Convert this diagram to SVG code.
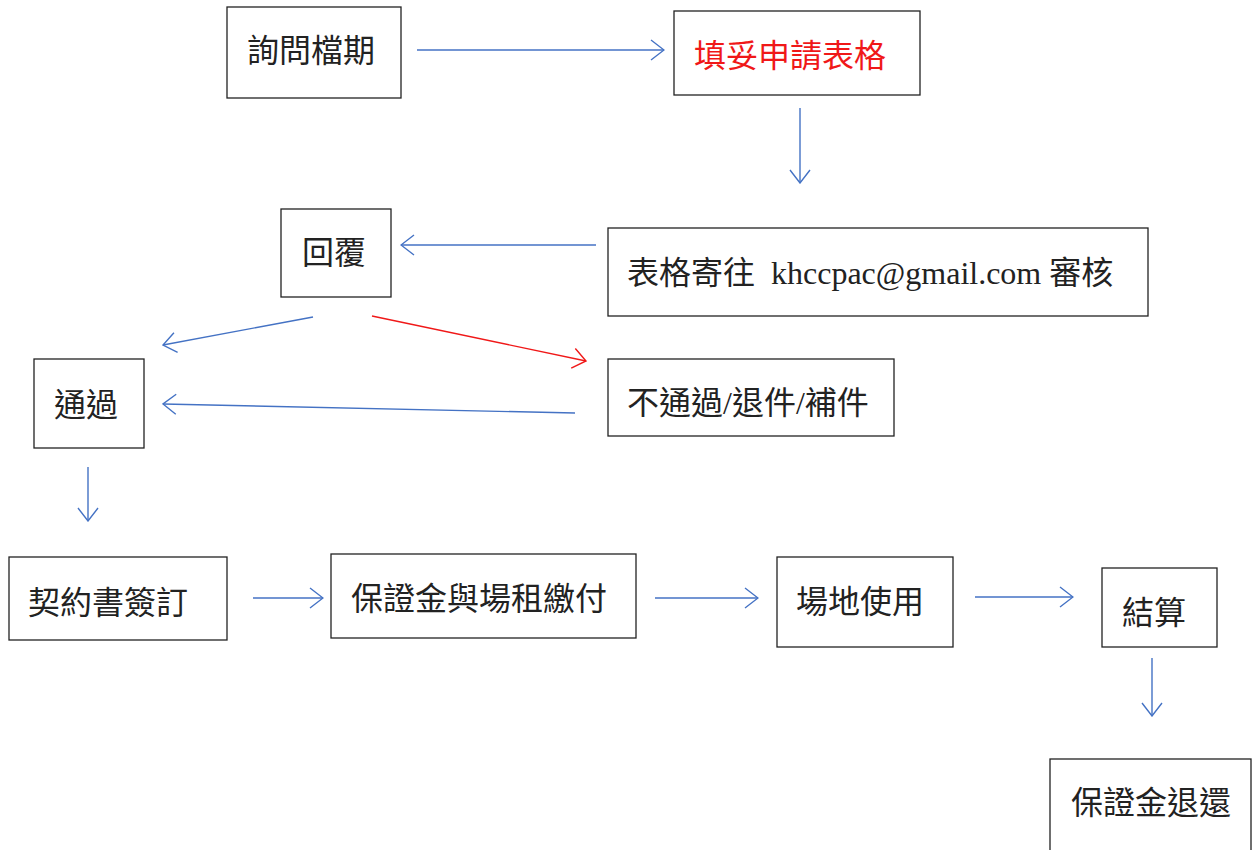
<svg xmlns="http://www.w3.org/2000/svg" width="1256" height="850" viewBox="0 0 1256 850">
<style>
.box{fill:#fff;stroke:#222;stroke-width:1.3}
.t{font-family:"Liberation Serif","Noto Sans CJK TC",serif;font-size:32px;fill:#222;white-space:pre}
.red{fill:#f01818}
.c{fill:none;stroke:#4472c4;stroke-width:1.4}
.cr{fill:none;stroke:#f01818;stroke-width:1.4}
</style>
<defs>
<marker id="ab" viewBox="0 0 16 22" refX="15" refY="11" markerWidth="16" markerHeight="22" markerUnits="userSpaceOnUse" orient="auto">
<path d="M2,1 L15,11 L2,21" fill="none" stroke="#4472c4" stroke-width="1.4"/>
</marker>
<marker id="ar" viewBox="0 0 16 22" refX="15" refY="11" markerWidth="16" markerHeight="22" markerUnits="userSpaceOnUse" orient="auto">
<path d="M2,1 L15,11 L2,21" fill="none" stroke="#f01818" stroke-width="1.4"/>
</marker>
</defs>
<rect width="1256" height="850" fill="#fff"/>
<g id="connectors">
<line class="c" x1="417" y1="50" x2="664" y2="50" marker-end="url(#ab)"/>
<line class="c" x1="800" y1="108" x2="800" y2="183" marker-end="url(#ab)"/>
<line class="c" x1="596" y1="245" x2="401" y2="245" marker-end="url(#ab)"/>
<line class="c" x1="313" y1="317" x2="163" y2="345" marker-end="url(#ab)"/>
<line class="cr" x1="372" y1="316" x2="586" y2="361" marker-end="url(#ar)"/>
<line class="c" x1="575" y1="413" x2="163" y2="404" marker-end="url(#ab)"/>
<line class="c" x1="88" y1="467" x2="88" y2="521" marker-end="url(#ab)"/>
<line class="c" x1="253" y1="598" x2="323" y2="598" marker-end="url(#ab)"/>
<line class="c" x1="655" y1="598" x2="758" y2="598" marker-end="url(#ab)"/>
<line class="c" x1="975" y1="597" x2="1073" y2="597" marker-end="url(#ab)"/>
<line class="c" x1="1152" y1="658" x2="1152" y2="716" marker-end="url(#ab)"/>
</g>
<g id="n1"><rect class="box" x="227" y="7" width="174" height="91"/><text class="t" x="247" y="62">詢問檔期</text></g>
<g id="n2"><rect class="box" x="674" y="11" width="246" height="84"/><text class="t red" x="694" y="67">填妥申請表格</text></g>
<g id="n3"><rect class="box" x="281" y="209" width="110" height="88"/><text class="t" x="302" y="264">回覆</text></g>
<g id="n4"><rect class="box" x="608" y="228" width="540" height="88"/><text class="t" x="627" y="284">表格寄往  khccpac@gmail.com 審核</text></g>
<g id="n5"><rect class="box" x="34" y="359" width="110" height="89"/><text class="t" x="54" y="416">通過</text></g>
<g id="n6"><rect class="box" x="608" y="359" width="286" height="77"/><text class="t" x="627" y="414">不通過/退件/補件</text></g>
<g id="n7"><rect class="box" x="9" y="557" width="218" height="83"/><text class="t" x="28" y="614">契約書簽訂</text></g>
<g id="n8"><rect class="box" x="331" y="554" width="305" height="84"/><text class="t" x="351" y="610">保證金與場租繳付</text></g>
<g id="n9"><rect class="box" x="777" y="557" width="176" height="90"/><text class="t" x="796" y="613">場地使用</text></g>
<g id="n10"><rect class="box" x="1102" y="568" width="115" height="79"/><text class="t" x="1122" y="624">結算</text></g>
<g id="n11"><rect class="box" x="1050" y="759" width="201" height="100"/><text class="t" x="1071" y="814">保證金退還</text></g>
</svg>
